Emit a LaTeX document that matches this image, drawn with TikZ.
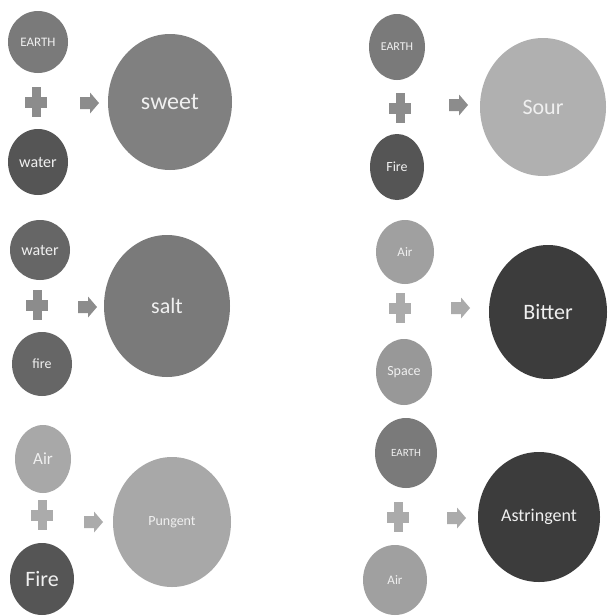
\documentclass[tikz,border=0pt]{standalone}
\usepackage{fontspec}
\setmainfont{Carlito}
\usetikzlibrary{shapes.geometric}
\definecolor{gA}{HTML}{7A7A7A}
\definecolor{gB}{HTML}{555555}
\definecolor{gC}{HTML}{808080}
\definecolor{gD}{HTML}{B0B0B0}
\definecolor{gE}{HTML}{666666}
\definecolor{gF}{HTML}{A0A0A0}
\definecolor{gG}{HTML}{3C3C3C}
\definecolor{gH}{HTML}{A8A8A8}
\definecolor{gP}{HTML}{8C8C8C}
\definecolor{gQ}{HTML}{ABABAB}
\definecolor{gT}{HTML}{F0F0F0}
\newcommand{\fsz}[1]{\fontsize{#1}{#1}\selectfont}
\begin{document}
\begin{tikzpicture}[x=1pt,y=-1pt,
  ball/.style 2 args={ellipse, inner sep=0pt, minimum width=#1, minimum height=#2, text=gT},
  plussign/.pic={\fill (-4.5,-15) rectangle (4.5,15); \fill (-11,-5.5) rectangle (11,5.5);},
  blockarrow/.pic={\fill (-10,-6) -- (0,-6) -- (0,-10.5) -- (9,0) -- (0,10.5) -- (0,6) -- (-10,6) -- cycle;}
]
\useasboundingbox[fill=white] (0,0) rectangle (608,616);

% panel 1
\node[ball={60}{62}, fill=gA, font=\fsz{13}] (e1) at (38,42) {EARTH};
\node[ball={60}{66}, fill=gB, font=\fsz{16}] (w1) at (38,162) {water};
\node[ball={124}{136}, fill=gC, font=\fsz{24}] (sweet) at (170,102) {sweet};
\pic[fill=gP] at (36,102) {plussign};
\pic[fill=gP] at (90,103) {blockarrow};

% panel 2
\node[ball={56}{66}, fill=gA, font=\fsz{12}] (e2) at (397,47) {EARTH};
\node[ball={54}{66}, fill=gB, font=\fsz{14}] (f2) at (397,167) {Fire};
\node[ball={126}{138}, fill=gD, font=\fsz{22}] (sour) at (543,107) {Sour};
\pic[fill=gP] at (400,108) {plussign};
\pic[fill=gP] at (459,105) {blockarrow};

% panel 3
\node[ball={60}{60}, fill=gB!90!white, font=\fsz{16}] (w3) at (40,250) {water};
\node[ball={60}{64}, fill=gE, font=\fsz{14}] (f3) at (42,364) {fire};
\node[ball={126}{142}, fill=gA, font=\fsz{22}] (salt) at (167,306) {salt};
\pic[fill=gP] at (37,305) {plussign};
\pic[fill=gP] at (88,307) {blockarrow};

% panel 4
\node[ball={58}{64}, fill=gF, font=\fsz{13}] (a4) at (405,252) {Air};
\node[ball={56}{66}, fill=gF!95!black, font=\fsz{14}] (s4) at (404,372) {Space};
\node[ball={118}{134}, fill=gG, font=\fsz{22}] (bitter) at (548,312) {Bitter};
\pic[fill=gQ] at (400,308) {plussign};
\pic[fill=gQ] at (461,308) {blockarrow};

% panel 5
\node[ball={56}{68}, fill=gH, font=\fsz{17}] (a5) at (43,459) {Air};
\node[ball={64}{72}, fill=gB, font=\fsz{22}] (f5) at (42,579) {Fire};
\node[ball={118}{130}, fill=gH, font=\fsz{14}] (pungent) at (172,522) {Pungent};
\pic[fill=gQ] at (42,515) {plussign};
\pic[fill=gQ] at (94,522) {blockarrow};

% panel 6
\node[ball={62}{70}, fill=gA, font=\fsz{11}] (e6) at (406,453) {EARTH};
\node[ball={64}{70}, fill=gF, font=\fsz{13}] (a6) at (395,580) {Air};
\node[ball={122}{130}, fill=gG, font=\fsz{18}] (astr) at (539,517) {Astringent};
\pic[fill=gQ] at (398,517) {plussign};
\pic[fill=gQ] at (457,518) {blockarrow};
\end{tikzpicture}
\end{document}
